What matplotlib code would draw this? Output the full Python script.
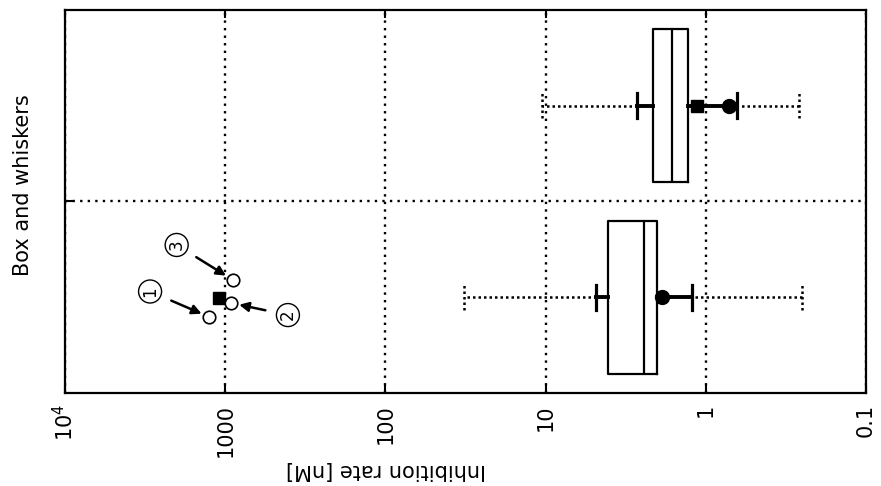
import matplotlib
matplotlib.use("Agg")
import matplotlib.pyplot as plt

# ---- data ----
positions = [1, 2]
q1 = [2.01, 1.29]
med = [2.43, 1.63]
q3 = [4.1, 2.13]
whis_lo = [1.22, 0.636]
whis_hi = [4.87, 2.68]
data_min = [0.252, 0.261]
data_max = [32.3, 10.6]

square_vals = [1094, 1.14]
circle_vals = [1.88, 0.716]

open_x = [1257, 920, 893]
open_y = [0.897, 0.970, 1.09]
open_labels = ["1", "2", "3"]
label_x = [2944, 406, 2009]
label_y = [1.03, 0.907, 1.273]
square_y = [0.996, 2.0]

xticks = [1e4, 1000, 100, 10, 1, 0.1]
xticklabels = [r"$10^4$", "1000", "100", "10", "1", "0.1"]

plt.rcParams['font.family'] = ['DejaVu Sans']

fig = plt.figure(figsize=(8.81, 4.86), dpi=100)
ax = fig.add_axes([65/881, 1 - 393/486, (866-65)/881, (393-10)/486])

stats = []
for i in range(len(positions)):
    stats.append(dict(med=med[i], q1=q1[i], q3=q3[i],
                      whislo=whis_lo[i], whishi=whis_hi[i], fliers=[]))

ax.bxp(stats, positions=positions, vert=False, widths=0.8,
       showfliers=False, capwidths=0.13,
       boxprops=dict(color='black', lw=1.6),
       medianprops=dict(color='black', lw=1.6),
       whiskerprops=dict(color='black', lw=2.8),
       capprops=dict(color='black', lw=2.3), zorder=3)

# dotted extensions to min/max
for i, p in enumerate(positions):
    ax.hlines(p, whis_hi[i], data_max[i], colors='black', linestyles=(0, (1, 1.2)), lw=1.8, zorder=2)
    ax.hlines(p, data_min[i], whis_lo[i], colors='black', linestyles=(0, (1, 1.2)), lw=1.8, zorder=2)
    ax.vlines([data_min[i], data_max[i]], p - 0.065, p + 0.065, colors='black',
              linestyles=(0, (1, 1.2)), lw=1.8, zorder=2)

ax.plot(square_vals, square_y, 's', color='black', ms=9, zorder=4, ls='none')
ax.plot(circle_vals, positions, 'o', color='black', ms=10, zorder=4, ls='none')
ax.plot(open_x, open_y, 'o', mfc='white', mec='black', ms=9, mew=1.2, zorder=4, ls='none')

for i in range(len(open_x)):
    ax.annotate(open_labels[i], xy=(open_x[i], open_y[i]), xytext=(label_x[i], label_y[i]),
                fontsize=12, rotation=90, ha='center', va='center',
                bbox=dict(boxstyle='circle,pad=0.15', fc='white', ec='black', lw=1),
                arrowprops=dict(arrowstyle='-|>', color='black', lw=1.8,
                                shrinkA=8, shrinkB=6, mutation_scale=14),
                zorder=5)

ax.set_xscale('log')
ax.set_xlim(1e4, 0.1)
ax.set_ylim(0.5, 2.5)
ax.set_xticks(xticks)
ax.set_xticklabels(xticklabels, rotation=90, fontsize=15)
ax.minorticks_off()
ax.set_yticks([1.5])
ax.set_yticklabels([])
ax.tick_params(axis='both', direction='in', length=6, width=1.5, top=True)
ax.tick_params(axis='x', pad=8)
ax.grid(True, which='major', linestyle=(0, (1, 2.2)), color='black', lw=1.7)
ax.set_axisbelow(True)
for s in ax.spines.values():
    s.set_linewidth(1.6)

fig.text(23/881, 1 - 185/486, "Box and whiskers", rotation=90, fontsize=15,
         ha='center', va='center')
fig.text(386/881, 1 - 470/486, "Inhibition rate [nM]", rotation=180, fontsize=15,
         ha='center', va='center')

fig.savefig("out.png", dpi=100)
